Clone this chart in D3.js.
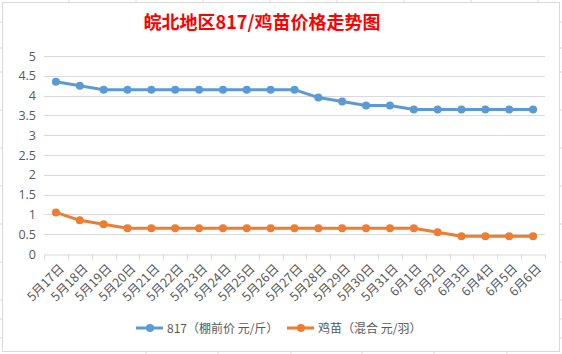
<!DOCTYPE html>
<html lang="zh">
<head>
<meta charset="UTF-8">
<title>皖北地区817/鸡苗价格走势图</title>
<style>
  body { margin: 0; background: #fff; }
  svg text { font-family: "Noto Sans CJK SC", "Noto Sans", sans-serif; }
</style>
</head>
<body>
<svg id="chart" width="562" height="354"></svg>
<script src="https://d3js.org/d3.v7.min.js"></script>
<script>
  // data
  const dates = ["5月17日","5月18日","5月19日","5月20日","5月21日","5月22日","5月23日",
    "5月24日","5月25日","5月26日","5月27日","5月28日","5月29日","5月30日","5月31日",
    "6月1日","6月2日","6月3日","6月4日","6月5日","6月6日"];
  const price817 = [4.35,4.25,4.15,4.15,4.15,4.15,4.15,4.15,4.15,4.15,4.15,
    3.95,3.85,3.75,3.75,3.65,3.65,3.65,3.65,3.65,3.65];
  const priceChick = [1.05,0.85,0.75,0.65,0.65,0.65,0.65,0.65,0.65,0.65,0.65,
    0.65,0.65,0.65,0.65,0.65,0.55,0.45,0.45,0.45,0.45];
  const yTicks = [0,0.5,1,1.5,2,2.5,3,3.5,4,4.5,5];
  const seriesNames = ["817（棚前价 元/斤）", "鸡苗（混合 元/羽）"];
  const colors = ["#5b9bd5", "#ed7d31"];

  const svg = d3.select("#chart");
  const grid = "#d9d9d9";

  // spreadsheet cell lines peeking out around the chart
  [69,136,203,270,337,404,471,538].forEach(x =>
    svg.append("line").attr("x1", x).attr("x2", x).attr("y1", 0).attr("y2", 3).attr("stroke", grid));
  [146,218,291,362,434,507].forEach(x =>
    svg.append("line").attr("x1", x).attr("x2", x).attr("y1", 351).attr("y2", 354).attr("stroke", grid));
  [22,48,72,110,148,186,224,262,300,319,338].forEach(y => {
    svg.append("line").attr("x1", 0).attr("x2", 2).attr("y1", y).attr("y2", y).attr("stroke", grid);
    svg.append("line").attr("x1", 560).attr("x2", 562).attr("y1", y).attr("y2", y).attr("stroke", grid);
  });

  // chart frame
  svg.append("rect").attr("x", 2.5).attr("y", 2.5).attr("width", 557).attr("height", 349)
    .attr("fill", "#fff").attr("stroke", grid);

  const margin = { left: 44, right: 17, top: 56, bottom: 100 };
  const x = d3.scaleBand().domain(dates).range([margin.left, 562 - margin.right]);
  const y = d3.scaleLinear().domain([0, 5]).range([354 - margin.bottom, margin.top]);

  // title
  svg.append("text").attr("x", 262).attr("y", 29).attr("text-anchor", "middle")
    .attr("fill", "#ff0000").attr("font-size", 18).attr("font-weight", "bold")
    .text("皖北地区817/鸡苗价格走势图");

  // gridlines
  svg.append("g").selectAll("line").data(yTicks.filter(d => d > 0)).join("line")
    .attr("x1", margin.left).attr("x2", 562 - margin.right)
    .attr("y1", d => Math.round(y(d)) + 0.5).attr("y2", d => Math.round(y(d)) + 0.5)
    .attr("stroke", grid);

  // y axis labels
  const yAxis = d3.axisLeft(y).tickValues(yTicks).tickFormat(d3.format("~g"))
    .tickSize(0).tickPadding(8);
  const gy = svg.append("g").attr("transform", `translate(${margin.left},0)`).call(yAxis);
  gy.select(".domain").remove();
  gy.selectAll("text").attr("fill", "#595959").attr("font-size", 12.5)
    .style("font-family", "'Open Sans', sans-serif");

  // x axis
  const xAxis = d3.axisBottom(x).tickSize(0).tickPadding(0);
  const gx = svg.append("g").attr("transform", `translate(0,${Math.round(y(0)) + 0.5})`).call(xAxis);
  gx.select(".domain").attr("stroke", grid);
  const edges = dates.map(d => x(d)).concat([x.range()[1]]);
  gx.selectAll(".edge").data(edges).join("line").attr("class", "edge")
    .attr("x1", d => Math.round(d) + 0.5).attr("x2", d => Math.round(d) + 0.5)
    .attr("y1", 0).attr("y2", 5).attr("stroke", grid);
  gx.selectAll(".tick text")
    .attr("fill", "#595959").attr("font-size", 12.5).attr("dy", 0)
    .attr("text-anchor", "end")
    .attr("transform", `translate(${x.bandwidth() / 2 - 3},15) rotate(-45)`);

  // lines + markers
  const seriesData = [price817, priceChick];
  const line = d3.line().x((d, i) => x(dates[i]) + x.bandwidth() / 2).y(d => y(d));
  seriesData.forEach((vals, k) => {
    svg.append("path").datum(vals).attr("d", line)
      .attr("fill", "none").attr("stroke", colors[k]).attr("stroke-width", 3)
      .attr("stroke-linejoin", "round");
    svg.append("g").selectAll("circle").data(vals).join("circle")
      .attr("cx", (d, i) => x(dates[i]) + x.bandwidth() / 2)
      .attr("cy", d => y(d)).attr("r", 4).attr("fill", colors[k]);
  });

  // legend
  const legendX = [136, 287];
  seriesNames.forEach((name, k) => {
    const g = svg.append("g").attr("transform", `translate(${legendX[k]},328)`);
    g.append("line").attr("x1", 0).attr("x2", 27).attr("stroke", colors[k]).attr("stroke-width", 3);
    g.append("circle").attr("cx", 14).attr("r", 4).attr("fill", colors[k]);
    g.append("text").attr("x", 31).attr("y", 4.5).attr("font-size", 12).attr("fill", "#595959").text(name);
  });
</script>
</body>
</html>
